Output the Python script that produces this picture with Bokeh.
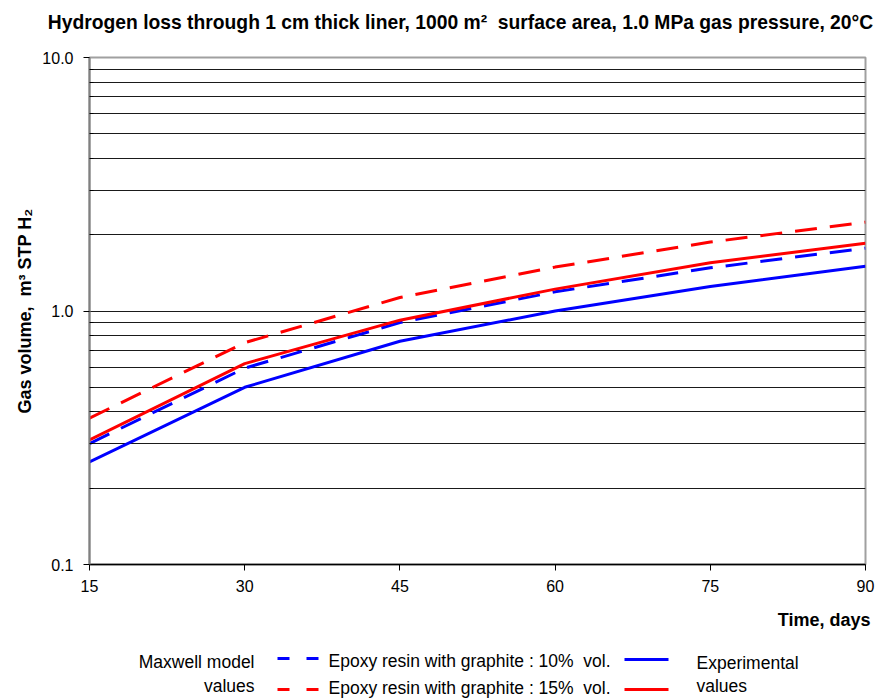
from bokeh.plotting import figure
from bokeh.layouts import column
from bokeh.models import Range1d, FixedTicker, PrintfTickFormatter
from bokeh.core.properties import value
from bokeh.embed import file_html
from bokeh.resources import INLINE

# ---- data ----
days = [15, 30, 45, 60, 75, 90]
maxwell_10 = [0.30, 0.595, 0.90, 1.19, 1.48, 1.77]
maxwell_15 = [0.378, 0.75, 1.13, 1.49, 1.87, 2.24]
exp_10 = [0.254, 0.50, 0.76, 1.00, 1.25, 1.50]
exp_15 = [0.31, 0.62, 0.92, 1.22, 1.55, 1.85]

x_ticks = [15, 30, 45, 60, 75, 90]
y_major = [0.1, 1, 10]
y_minor = [0.2, 0.3, 0.4, 0.5, 0.6, 0.7, 0.8, 0.9, 2, 3, 4, 5, 6, 7, 8, 9]

title_text = "Hydrogen loss through 1 cm thick liner, 1000 m\u00b2\u00a0 surface area, 1.0 MPa gas pressure, 20\u00b0C"
y_label = "Gas volume,\u00a0 m\u00b3 STP H\u2082"
x_label = "Time, days"
leg_left = ["Maxwell model", "values"]
leg_mid = ["Epoxy resin with graphite : 10%\u00a0 vol.", "Epoxy resin with graphite : 15%\u00a0 vol."]
leg_right = ["Experimental", "values"]

# ---- layout ----
W = 877
TITLE_H = 40
MAIN_H = 560
LEG_H = 98
L, R = 89, 865          # plot frame left/right in page px
FT, FB = 57, 564        # plot frame top/bottom in page px
FONT = "Liberation Sans"
BLUE, RED = "#0000ff", "#ff0000"


def blank(height):
    f = figure(width=W, height=height, output_backend="svg", toolbar_location=None,
               x_range=Range1d(0, W), y_range=Range1d(height, 0),
               x_axis_location=None, y_axis_location=None, min_border=0,
               frame_align=False)
    f.grid.visible = False
    f.outline_line_color = None
    f.background_fill_color = "white"
    f.border_fill_color = "white"
    return f


def txt(f, x, y, s, align="left", size="17.5px", bold=False):
    f.text(x=[x], y=[y], text=[s], text_align=align, text_baseline="middle",
           text_font=value(FONT), text_font_size=size,
           text_font_style="bold" if bold else "normal", text_color="black")


# ---- title strip ----
tf = blank(TITLE_H)
txt(tf, 460, 22, title_text, align="center", size="19.3px", bold=True)

# ---- main chart ----
p = figure(width=W, height=MAIN_H, y_axis_type="log", output_backend="svg",
           toolbar_location=None, x_range=Range1d(15, 90), y_range=Range1d(0.1, 10),
           min_border_left=L, min_border_right=W - R, min_border_top=FT - TITLE_H,
           min_border_bottom=TITLE_H + MAIN_H - FB, title=None, frame_align=False)
p.background_fill_color = "white"
p.border_fill_color = "white"
p.outline_line_color = "#a0a0a0"
p.outline_line_width = 2

p.xgrid.grid_line_color = None
p.ygrid.grid_line_color = "#1a1a1a"
p.ygrid.grid_line_width = 1
p.ygrid.minor_grid_line_color = "#1a1a1a"
p.ygrid.minor_grid_line_width = 1

p.xaxis.ticker = FixedTicker(ticks=x_ticks)
p.xaxis.axis_line_color = "black"
p.xaxis.axis_line_width = 1.5
p.xaxis.major_tick_out = 6
p.xaxis.major_tick_in = 0
p.xaxis.major_tick_line_color = "black"
p.xaxis.minor_tick_line_color = None
p.xaxis.major_label_standoff = 9
p.xaxis.major_label_text_font = FONT
p.xaxis.major_label_text_font_size = "16px"
p.xaxis.major_label_text_color = "black"

p.yaxis.ticker = FixedTicker(ticks=y_major, minor_ticks=y_minor)
p.yaxis.formatter = PrintfTickFormatter(format="%.1f")
p.yaxis.axis_line_color = "#808080"
p.yaxis.axis_line_width = 2
p.yaxis.major_tick_out = 6
p.yaxis.major_tick_in = 0
p.yaxis.major_tick_line_color = "black"
p.yaxis.minor_tick_in = 4
p.yaxis.minor_tick_out = 0
p.yaxis.minor_tick_line_color = "black"
p.yaxis.major_label_standoff = 10
p.yaxis.major_label_text_font = FONT
p.yaxis.major_label_text_font_size = "16px"
p.yaxis.major_label_text_color = "black"
p.yaxis.axis_label = y_label
p.yaxis.axis_label_text_font = FONT
p.yaxis.axis_label_text_font_style = "bold"
p.yaxis.axis_label_text_font_size = "18px"
p.yaxis.axis_label_text_color = "black"
p.yaxis.axis_label_standoff = 4

p.line(days, maxwell_10, line_color=BLUE, line_width=3, line_dash="22 13")
p.line(days, maxwell_15, line_color=RED, line_width=3, line_dash="22 13")
p.line(days, exp_10, line_color=BLUE, line_width=3)
p.line(days, exp_15, line_color=RED, line_width=3)

# ---- bottom strip: x label + legend ----
lf = blank(LEG_H)
OY = TITLE_H + MAIN_H   # page y of strip top (600)
txt(lf, 870, 619 - OY, x_label, align="right", size="18px", bold=True)

txt(lf, 254, 661 - OY, leg_left[0], align="right")
txt(lf, 254, 685 - OY, leg_left[1], align="right")
txt(lf, 328, 660 - OY, leg_mid[0])
txt(lf, 328, 687 - OY, leg_mid[1])
txt(lf, 696, 662 - OY, leg_right[0])
txt(lf, 696, 685 - OY, leg_right[1])

lf.line([277, 318], [658 - OY, 658 - OY], line_color=BLUE, line_width=3, line_dash="12 17")
lf.line([277, 318], [689 - OY, 689 - OY], line_color=RED, line_width=3, line_dash="12 17")
lf.line([624, 668], [659 - OY, 659 - OY], line_color=BLUE, line_width=3)
lf.line([624, 668], [689 - OY, 689 - OY], line_color=RED, line_width=3)

layout = column(tf, p, lf, spacing=0)
open("out.html", "w").write(file_html(layout, INLINE))
